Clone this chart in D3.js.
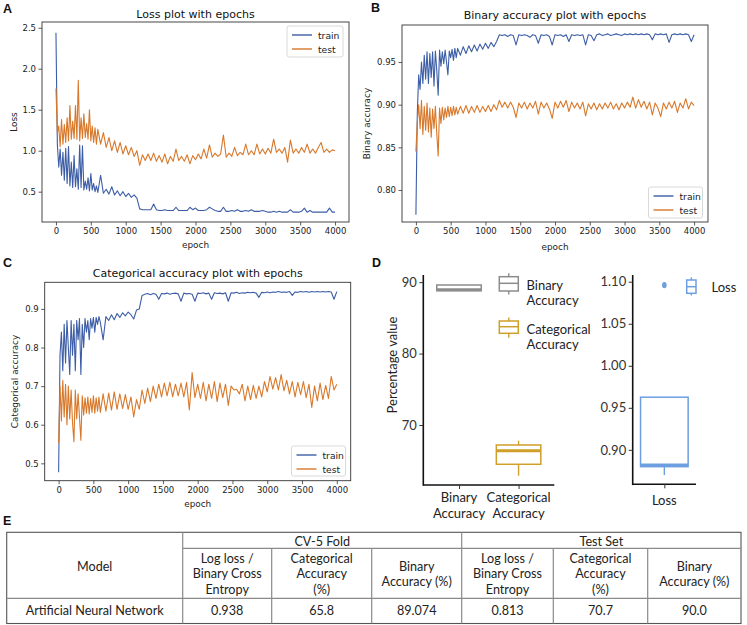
<!DOCTYPE html>
<html><head><meta charset="utf-8">
<script src="https://cdn.jsdelivr.net/npm/d3@7"></script>
<style>body{margin:0;background:#fff}svg{display:block}</style>
</head><body><svg id="c" width="747" height="625"></svg>
<script>
// ---------------- DATA ----------------
const epochs = [0,20,40,60,80,100,120,140,160,180,200,220,240,260,280,300,320,340,360,380,400,420,440,460,480,500,520,540,560,580,
600,640,680,720,760,800,840,880,920,960,1000,1040,1080,1120,1160,1200,1240,1280,1320,1360,1400,1440,1480,1520,1560,1600,1640,1680,1720,1760,
1800,1840,1880,1920,1960,2000,2040,2080,2120,2160,2200,2240,2280,2320,2360,2400,2440,2480,2520,2560,2600,2640,2680,2720,2760,2800,2840,2880,2920,2960,
3000,3040,3080,3120,3160,3200,3240,3280,3320,3360,3400,3440,3480,3520,3560,3600,3640,3680,3720,3760,3800,3840,3880,3920,3960,4000];

const lossTrain = [2.44,1.08,0.80,1.02,0.70,0.98,0.64,1.03,0.60,1.05,
0.57,0.86,0.55,0.94,0.56,0.78,0.53,1.07,0.55,1.06,
0.52,0.63,0.53,0.67,0.51,0.72,0.52,0.60,0.50,0.57,
0.49,0.70,0.48,0.53,0.47,0.56,0.46,0.51,0.45,0.50,
0.44,0.48,0.43,0.46,0.42,0.29,0.28,0.28,0.28,0.28,
0.35,0.28,0.27,0.27,0.28,0.27,0.27,0.27,0.31,0.27,
0.27,0.27,0.27,0.31,0.28,0.30,0.27,0.27,0.27,0.28,
0.31,0.29,0.27,0.26,0.26,0.31,0.26,0.26,0.27,0.26,
0.28,0.26,0.26,0.27,0.26,0.28,0.26,0.26,0.26,0.27,
0.26,0.25,0.25,0.26,0.25,0.26,0.25,0.25,0.25,0.28,
0.25,0.25,0.25,0.26,0.30,0.25,0.27,0.25,0.25,0.25,
0.25,0.25,0.25,0.30,0.25,0.25];
const lossTest = [1.76,1.22,1.30,1.05,1.38,1.08,1.32,1.10,1.40,1.12,
1.55,1.14,1.36,1.15,1.55,1.14,1.86,1.12,1.40,1.15,
1.45,1.16,1.33,1.14,1.50,1.12,1.30,1.10,1.28,1.08,
1.26,1.08,1.22,1.04,1.16,1.00,1.12,0.98,1.10,0.96,
1.06,0.95,1.04,0.93,1.00,0.82,0.95,0.88,0.96,0.88,
0.97,0.87,0.94,0.86,0.96,0.84,0.93,0.87,1.02,0.88,
0.93,0.87,0.95,0.84,0.94,0.89,0.96,0.90,1.02,0.91,
1.07,0.92,0.97,0.93,0.96,1.19,0.92,0.97,0.93,1.04,
0.94,0.98,0.95,1.08,0.95,1.00,0.95,1.08,0.96,1.02,
0.96,1.03,0.97,1.14,0.98,1.02,0.97,1.04,0.86,1.13,
0.97,1.02,0.97,1.04,0.98,1.08,0.97,1.02,0.97,1.04,
1.10,0.98,1.02,0.98,1.01,1.00];

const binTrain = [0.771,0.890,0.935,0.918,0.950,0.925,0.958,0.930,0.962,0.925,
0.960,0.932,0.962,0.922,0.963,0.940,0.911,0.964,0.945,0.962,
0.948,0.964,0.950,0.935,0.963,0.955,0.965,0.952,0.966,0.955,
0.966,0.958,0.968,0.960,0.969,0.962,0.970,0.963,0.971,0.965,
0.972,0.966,0.973,0.968,0.974,0.982,0.981,0.982,0.980,0.982,
0.981,0.970,0.982,0.981,0.982,0.981,0.979,0.982,0.981,0.972,
0.982,0.981,0.982,0.980,0.970,0.982,0.981,0.982,0.980,0.982,
0.974,0.982,0.981,0.982,0.981,0.982,0.970,0.982,0.981,0.975,
0.982,0.983,0.981,0.982,0.983,0.981,0.982,0.983,0.982,0.981,
0.983,0.982,0.983,0.982,0.983,0.982,0.983,0.982,0.983,0.982,
0.976,0.983,0.982,0.983,0.982,0.983,0.973,0.982,0.983,0.982,
0.983,0.982,0.983,0.982,0.974,0.982];
const binTest = [0.845,0.880,0.900,0.872,0.905,0.865,0.898,0.870,0.902,0.868,
0.896,0.862,0.895,0.872,0.898,0.866,0.840,0.896,0.878,0.897,
0.882,0.896,0.885,0.898,0.886,0.897,0.887,0.898,0.888,0.897,
0.889,0.898,0.890,0.899,0.890,0.898,0.891,0.899,0.891,0.898,
0.892,0.899,0.892,0.900,0.894,0.905,0.897,0.903,0.896,0.903,
0.897,0.885,0.902,0.896,0.903,0.895,0.902,0.896,0.904,0.889,
0.903,0.896,0.902,0.895,0.884,0.903,0.896,0.904,0.897,0.905,
0.892,0.903,0.896,0.902,0.895,0.903,0.887,0.901,0.895,0.902,
0.894,0.901,0.895,0.902,0.896,0.903,0.895,0.901,0.894,0.902,
0.896,0.903,0.897,0.909,0.896,0.906,0.897,0.904,0.895,0.903,
0.888,0.902,0.896,0.886,0.902,0.895,0.903,0.896,0.904,0.891,
0.902,0.896,0.907,0.895,0.903,0.899];

const catTrain = [0.477,0.780,0.840,0.740,0.860,0.760,0.870,0.800,0.730,0.870,
0.780,0.860,0.740,0.870,0.820,0.875,0.730,0.860,0.800,0.875,
0.840,0.870,0.820,0.875,0.850,0.878,0.840,0.878,0.860,0.880,
0.865,0.820,0.880,0.870,0.885,0.872,0.888,0.878,0.890,0.882,
0.892,0.885,0.874,0.897,0.900,0.935,0.938,0.940,0.937,0.940,
0.938,0.925,0.940,0.939,0.941,0.938,0.940,0.941,0.939,0.920,
0.941,0.939,0.940,0.938,0.920,0.941,0.940,0.942,0.939,0.941,
0.925,0.942,0.940,0.941,0.939,0.942,0.920,0.942,0.941,0.943,
0.940,0.942,0.941,0.943,0.942,0.943,0.941,0.930,0.943,0.942,
0.944,0.942,0.944,0.943,0.945,0.943,0.944,0.943,0.945,0.935,
0.944,0.943,0.945,0.944,0.945,0.943,0.945,0.944,0.945,0.944,
0.945,0.944,0.945,0.944,0.925,0.945];
const catTest = [0.552,0.700,0.610,0.715,0.620,0.705,0.600,0.700,0.615,0.690,
0.605,0.556,0.690,0.615,0.680,0.620,0.560,0.675,0.625,0.670,
0.630,0.672,0.628,0.668,0.632,0.675,0.630,0.670,0.635,0.672,
0.632,0.680,0.635,0.682,0.638,0.685,0.640,0.680,0.642,0.678,
0.640,0.672,0.620,0.665,0.640,0.690,0.655,0.695,0.660,0.700,
0.668,0.705,0.672,0.708,0.675,0.710,0.672,0.705,0.675,0.708,
0.672,0.710,0.638,0.735,0.670,0.705,0.668,0.710,0.662,0.705,
0.668,0.712,0.660,0.708,0.670,0.705,0.650,0.700,0.690,0.692,
0.680,0.705,0.662,0.700,0.665,0.702,0.668,0.700,0.672,0.712,
0.685,0.725,0.692,0.722,0.690,0.730,0.688,0.715,0.680,0.712,
0.672,0.710,0.678,0.712,0.670,0.705,0.645,0.700,0.662,0.708,
0.665,0.702,0.668,0.725,0.690,0.705];

const seriesNames = ["train","test"];
const epochTicks = [0,500,1000,1500,2000,2500,3000,3500,4000];
const lossTicks = [0.5,1.0,1.5,2.0,2.5];
const binTicks = [0.80,0.85,0.90,0.95];
const catTicks = [0.5,0.6,0.7,0.8,0.9];

// Panel D box statistics (5-fold CV)
const boxCats = ["Binary Accuracy","Categorical Accuracy"];
const boxLo  = [88.8, 62.9];
const boxQ1  = [88.8, 64.5];
const boxMed = [88.95, 66.4];
const boxQ3  = [89.6, 67.2];
const boxHi  = [89.6, 67.8];
const pctTicks = [70,80,90];
const lossCats = ["Loss"];
const lossLo = [0.870], lossQ1 = [0.880], lossMed = [0.882], lossQ3 = [0.9626], lossHi = [0.9626];
const lossOutliers = [1.096];
const lossBoxTicks = [0.90,0.95,1.00,1.05,1.10];

// Panel E table
const groupHeads = ["CV-5 Fold","Test Set"];
const subHeads = [["Log loss /","Binary Cross","Entropy"],["Categorical","Accuracy","(%)"],["Binary","Accuracy (%)"],
                  ["Log loss /","Binary Cross","Entropy"],["Categorical","Accuracy","(%)"],["Binary","Accuracy (%)"]];
const rowValues = ["Artificial Neural Network","0.938","65.8","89.074","0.813","70.7","90.0"];

// ---------------- DRAW ----------------
const svg = d3.select("#c");
const DV = "'DejaVu Sans', sans-serif";
const LT = "Lato, 'Open Sans', sans-serif";
const BLUE = "#3d5ea6", ORANGE = "#d8782a";

function letter(t, x, y){
  svg.append("text").attr("x",x).attr("y",y).attr("dominant-baseline","central")
    .attr("font-family","'Liberation Sans', Arial, sans-serif").attr("font-weight","bold")
    .attr("font-size",12.5).attr("fill","#111").text(t);
}

function linePanel(o){
  const g = svg.append("g");
  const x = d3.scaleLinear().domain([-200,4200]).range([o.left,o.right]);
  const y = d3.scaleLinear().domain(o.yDom).range([o.bottom,o.top]);
  const id = "clip"+o.id;
  svg.append("clipPath").attr("id",id).append("rect")
    .attr("x",o.left).attr("y",o.top).attr("width",o.right-o.left).attr("height",o.bottom-o.top);
  const line = d3.line().x(d=>x(d[0])).y(d=>y(d[1]));
  [o.train,o.test].forEach((s,k)=>{
    g.append("path").datum(epochs.map((e,i)=>[e,s[i]]))
      .attr("clip-path",`url(#${id})`).attr("d",line)
      .attr("fill","none").attr("stroke",k?ORANGE:BLUE).attr("stroke-width",1.1)
      .attr("stroke-linejoin","round");
  });
  g.append("rect").attr("x",o.left).attr("y",o.top).attr("width",o.right-o.left).attr("height",o.bottom-o.top)
    .attr("fill","none").attr("stroke","#333").attr("stroke-width",0.9);
  const ya = g.append("g").attr("transform",`translate(${o.left},0)`)
    .call(d3.axisLeft(y).tickValues(o.yTicks).tickFormat(d3.format(o.fmt)).tickSize(3.5).tickPadding(2.5));
  const xa = g.append("g").attr("transform",`translate(0,${o.bottom})`)
    .call(d3.axisBottom(x).tickValues(epochTicks).tickFormat(d3.format("d")).tickSize(3.5).tickPadding(2.5));
  [ya,xa].forEach(a=>{
    a.select(".domain").remove();
    a.selectAll("line").attr("stroke","#333").attr("stroke-width",0.8);
    a.selectAll("text").attr("font-family",DV).attr("font-size",8.5).attr("fill","#222");
  });
  const cx = (o.left+o.right)/2;
  g.append("text").attr("x",cx).attr("y",o.titleY).attr("text-anchor","middle").attr("dominant-baseline","central")
    .attr("font-family",DV).attr("font-size",11).attr("fill","#111").text(o.title);
  g.append("text").attr("x",cx).attr("y",o.xlabY).attr("text-anchor","middle").attr("dominant-baseline","central")
    .attr("font-family",DV).attr("font-size",8.9).attr("fill","#222").text("epoch");
  g.append("text").attr("transform",`translate(${o.ylabX},${(o.top+o.bottom)/2}) rotate(-90)`)
    .attr("text-anchor","middle").attr("dominant-baseline","central")
    .attr("font-family",DV).attr("font-size",8.9).attr("fill","#222").text(o.ylabel);
  const L = o.legend;
  g.append("rect").attr("x",L.x).attr("y",L.y).attr("width",L.w).attr("height",L.h).attr("rx",2)
    .attr("fill","#fff").attr("fill-opacity",0.85).attr("stroke","#cfcfcf").attr("stroke-width",0.8);
  seriesNames.forEach((n,k)=>{
    const yy = L.y + 9 + k*14;
    g.append("line").attr("x1",L.x+5).attr("x2",L.x+25).attr("y1",yy).attr("y2",yy)
      .attr("stroke",k?ORANGE:BLUE).attr("stroke-width",1.4);
    g.append("text").attr("x",L.x+31).attr("y",yy).attr("dominant-baseline","central")
      .attr("font-family",DV).attr("font-size",9.2).attr("fill","#222").text(n);
  });
}

linePanel({id:"A",left:42,right:349,top:22,bottom:222,yDom:[0.13,2.57],yTicks:lossTicks,fmt:".1f",
  train:lossTrain,test:lossTest,title:"Loss plot with epochs",titleY:14,xlabY:245,ylabX:14,ylabel:"Loss",
  legend:{x:287,y:26,w:56,h:31}});
linePanel({id:"B",left:402,right:708,top:25,bottom:222,yDom:[0.7625,0.9934],yTicks:binTicks,fmt:".2f",
  train:binTrain,test:binTest,title:"Binary accuracy plot with epochs",titleY:15,xlabY:246.5,ylabX:367,ylabel:"Binary accuracy",
  legend:{x:648.5,y:187,w:54,h:31}});
linePanel({id:"C",left:44.7,right:350.7,top:282.3,bottom:480.7,yDom:[0.455,0.969],yTicks:catTicks,fmt:".1f",
  train:catTrain,test:catTest,title:"Categorical accuracy plot with epochs",titleY:273,xlabY:504,ylabX:15,ylabel:"Categorical accuracy",
  legend:{x:291.5,y:446,w:54,h:30}});

letter("A",3,9); letter("B",371,8); letter("C",3,263); letter("D",372,263); letter("E",3,520.5);

// ---------- Panel D ----------
function boxPanel(o){
  const g = svg.append("g");
  const y = d3.scaleLinear().domain(o.yDom).range([o.bottom,o.top]);
  const x = d3.scalePoint().domain(o.cats).range([o.left,o.right]).padding(o.pad);
  o.cats.forEach((c,i)=>{
    const cx = x(c), w = o.bw, col = o.colors[i];
    g.append("line").attr("x1",cx).attr("x2",cx).attr("y1",y(o.lo[i])).attr("y2",y(o.q1[i])).attr("stroke",col).attr("stroke-width",1.4);
    g.append("line").attr("x1",cx).attr("x2",cx).attr("y1",y(o.q3[i])).attr("y2",y(o.hi[i])).attr("stroke",col).attr("stroke-width",1.4);
    g.append("rect").attr("x",cx-w/2).attr("y",y(o.q3[i])).attr("width",w).attr("height",y(o.q1[i])-y(o.q3[i]))
      .attr("fill","#fff").attr("stroke",col).attr("stroke-width",1.5);
    g.append("line").attr("x1",cx-w/2).attr("x2",cx+w/2).attr("y1",y(o.med[i])).attr("y2",y(o.med[i]))
      .attr("stroke",col).attr("stroke-width",3);
    (o.out||[]).forEach(v=>{
      g.append("ellipse").attr("cx",cx).attr("cy",y(v)).attr("rx",2.3).attr("ry",3.2).attr("fill",col);
    });
  });
  // spines
  g.append("line").attr("x1",o.left).attr("x2",o.left).attr("y1",o.top).attr("y2",o.bottom+0.8).attr("stroke","#111").attr("stroke-width",1.6);
  g.append("line").attr("x1",o.left).attr("x2",o.right).attr("y1",o.bottom).attr("y2",o.bottom).attr("stroke","#111").attr("stroke-width",1.6);
  const ya = g.append("g").attr("transform",`translate(${o.left},0)`)
    .call(d3.axisLeft(y).tickValues(o.ticks).tickFormat(d3.format(o.fmt)).tickSize(4).tickPadding(2.5));
  const xa = g.append("g").attr("transform",`translate(0,${o.bottom})`)
    .call(d3.axisBottom(x).tickSize(4).tickFormat(""));
  [ya,xa].forEach(a=>{
    a.select(".domain").remove();
    a.selectAll("line").attr("stroke","#333").attr("stroke-width",1);
  });
  ya.selectAll("text").attr("font-family",LT).attr("font-size",13).attr("fill","#333");
  o.cats.forEach(c=>{
    const words = o.labelLines[c];
    words.forEach((w,j)=>{
      g.append("text").attr("x",x(c)).attr("y",o.labY + j*15.5).attr("text-anchor","middle").attr("dominant-baseline","central")
        .attr("font-family",LT).attr("font-size",13).attr("fill","#222").text(w);
    });
  });
}
const GRAY = "#8c8c8c", GOLD = "#cf9f2a", LBLUE = "#6d9fe0";
boxPanel({cats:boxCats,left:423.3,right:554.3,top:275,bottom:485,pad:0.6,bw:44.5,yDom:[61.6,91.0],
  lo:boxLo,q1:boxQ1,med:boxMed,q3:boxQ3,hi:boxHi,colors:[GRAY,GOLD],ticks:pctTicks,fmt:"d",
  labY:497.3,labelLines:{"Binary Accuracy":["Binary","Accuracy"],"Categorical Accuracy":["Categorical","Accuracy"]}});
boxPanel({cats:lossCats,left:632.7,right:696,top:275,bottom:484.3,pad:0.5,bw:47.6,yDom:[0.859,1.108],
  lo:lossLo,q1:lossQ1,med:lossMed,q3:lossQ3,hi:lossHi,out:lossOutliers,colors:[LBLUE],ticks:lossBoxTicks,fmt:".2f",
  labY:500,labelLines:{"Loss":["Loss"]}});
svg.append("text").attr("transform","translate(391.5,365) rotate(-90)").attr("text-anchor","middle").attr("dominant-baseline","central")
  .attr("font-family",LT).attr("font-size",13).attr("fill","#222").text("Percentage value");

// legend icons for D
function boxIcon(x0,x1,wTop,bTop,med,bBot,wBot,col){
  const cx=(x0+x1)/2;
  svg.append("line").attr("x1",cx).attr("x2",cx).attr("y1",wTop).attr("y2",bTop).attr("stroke",col).attr("stroke-width",1.4);
  svg.append("line").attr("x1",cx).attr("x2",cx).attr("y1",bBot).attr("y2",wBot).attr("stroke",col).attr("stroke-width",1.4);
  svg.append("rect").attr("x",x0).attr("y",bTop).attr("width",x1-x0).attr("height",bBot-bTop).attr("fill","#fff").attr("stroke",col).attr("stroke-width",1.5);
  svg.append("line").attr("x1",x0).attr("x2",x1).attr("y1",med).attr("y2",med).attr("stroke",col).attr("stroke-width",1.5);
}
function legText(lines,x,y){
  lines.forEach((t,j)=>svg.append("text").attr("x",x).attr("y",y+j*15.8).attr("dominant-baseline","central")
    .attr("font-family",LT).attr("font-size",13).attr("fill","#222").text(t));
}
boxIcon(499.3,518.3,273.3,276.7,283.3,291,294.5,GRAY);
legText(["Binary","Accuracy"],526.5,284.5);
boxIcon(499.3,518.3,317.5,321,326.7,333.3,337.7,GOLD);
legText(["Categorical","Accuracy"],526.5,328.5);
boxIcon(686.7,696,277.3,280,286.7,293.3,295.5,LBLUE);
legText(["Loss"],711.5,287);

// ---------- Panel E table ----------
const T = {left:6.7,right:741,top:532.3,mid:548.3,hdr:598.3,bottom:623.5};
const colX = [6.7,182.7,271.7,371.7,461.7,553.3,647.7,741];
const tg = svg.append("g");
const LC = "#8a8a8a";
function hl(x1,x2,yy,c,w){tg.append("line").attr("x1",x1).attr("x2",x2).attr("y1",yy).attr("y2",yy).attr("stroke",c||LC).attr("stroke-width",w||1.2);}
function vl(xx,y1,y2,c,w){tg.append("line").attr("x1",xx).attr("x2",xx).attr("y1",y1).attr("y2",y2).attr("stroke",c||LC).attr("stroke-width",w||1.2);}
tg.append("rect").attr("x",T.left).attr("y",T.top).attr("width",T.right-T.left).attr("height",T.bottom-T.top)
  .attr("fill","none").attr("stroke","#555").attr("stroke-width",1.1);
vl(colX[1],T.top,T.bottom); vl(colX[4],T.top,T.bottom);
[2,3,5,6].forEach(k=>vl(colX[k],T.mid,T.bottom));
hl(colX[1],T.right,T.mid); hl(T.left,T.right,T.hdr);
function tt(t,x,y){tg.append("text").attr("x",x).attr("y",y).attr("text-anchor","middle").attr("dominant-baseline","central")
  .attr("font-family",LT).attr("font-size",12.6).attr("fill","#222").text(t);}
tt("Model",(colX[0]+colX[1])/2,566.5);
groupHeads.forEach((h,k)=>tt(h,(colX[1+3*k]+colX[4+3*k])/2,541));
subHeads.forEach((lines,k)=>{
  const cx=(colX[k+1]+colX[k+2])/2, n=lines.length, c0=573.8-(n-1)*15.5/2;
  lines.forEach((t,j)=>tt(t,cx,c0+j*15.5));
});
rowValues.forEach((v,k)=>tt(v,(colX[k]+colX[k+1])/2,610.5));
</script></body></html>
